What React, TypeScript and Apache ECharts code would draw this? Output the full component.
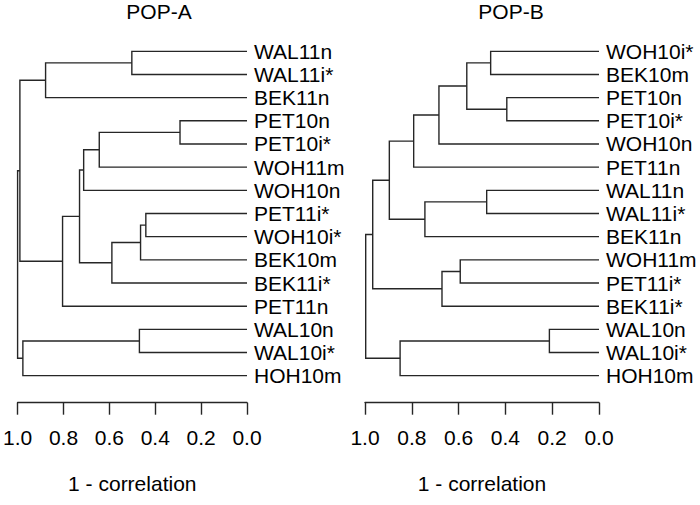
import React, { useEffect, useRef } from "react";
import * as echarts from "echarts";

// ---- data ----
const titles = ["POP-A", "POP-B"];
const axisName = "1 - correlation";
const xTickValues = [0, 0.2, 0.4, 0.6, 0.8, 1.0];

const popALeaves = [
  "WAL11n", "WAL11i*", "BEK11n", "PET10n", "PET10i*", "WOH11m", "WOH10n",
  "PET11i*", "WOH10i*", "BEK10m", "BEK11i*", "PET11n", "WAL10n", "WAL10i*", "HOH10m",
];
// [childA, childB, height]; string = leaf, number = index of earlier merge
const popAMerges: [string | number, string | number, number][] = [
  ["PET10n", "PET10i*", 0.292],
  ["PET11i*", "WOH10i*", 0.441],
  [1, "BEK10m", 0.464],
  ["WAL10n", "WAL10i*", 0.469],
  ["WAL11n", "WAL11i*", 0.502],
  [2, "BEK11i*", 0.589],
  [0, "WOH11m", 0.644],
  [6, "WOH10n", 0.712],
  [7, 5, 0.730],
  [8, "PET11n", 0.804],
  [4, "BEK11n", 0.878],
  [3, "HOH10m", 0.977],
  [10, 9, 0.990],
  [12, 11, 1.0],
];

const popBLeaves = [
  "WOH10i*", "BEK10m", "PET10n", "PET10i*", "WOH10n", "PET11n", "WAL11n",
  "WAL11i*", "BEK11n", "WOH11m", "PET11i*", "BEK11i*", "WAL10n", "WAL10i*", "HOH10m",
];
const popBMerges: [string | number, string | number, number][] = [
  ["WAL10n", "WAL10i*", 0.212],
  ["PET10n", "PET10i*", 0.394],
  ["WOH10i*", "BEK10m", 0.463],
  ["WAL11n", "WAL11i*", 0.480],
  [2, 1, 0.565],
  ["WOH11m", "PET11i*", 0.593],
  [5, "BEK11i*", 0.671],
  [4, "WOH10n", 0.684],
  [3, "BEK11n", 0.744],
  [7, "PET11n", 0.792],
  [0, "HOH10m", 0.850],
  [9, 8, 0.896],
  [11, 6, 0.967],
  [12, 10, 0.997],
];

function buildLinks(leaves: string[], merges: [string | number, string | number, number][]) {
  const nodes: { y: number; h: number }[] = [];
  const links: { coords: number[][] }[] = [];
  const get = (ref: string | number) =>
    typeof ref === "string" ? { y: leaves.indexOf(ref), h: 0 } : nodes[ref];
  merges.forEach(([a, b, h]) => {
    const A = get(a);
    const B = get(b);
    links.push({ coords: [[A.h, A.y], [h, A.y], [h, B.y], [B.h, B.y]] });
    nodes.push({ y: (A.y + B.y) / 2, h });
  });
  return links;
}

const FONT = "'Liberation Sans', Arial, Helvetica, sans-serif";
const LINE = "#262626";
const LW = 1.4;

export default function App() {
  const ref = useRef<HTMLDivElement>(null);
  useEffect(() => {
    if (!ref.current) return;
    const chart = echarts.init(ref.current, undefined, { renderer: "svg" });
    const panels = [
      { leaves: popALeaves, merges: popAMerges, left: 14, width: 233, titleX: 159 },
      { leaves: popBLeaves, merges: popBMerges, left: 365, width: 234, titleX: 511 },
    ];
    const top = 51.3;
    const height = 324.4;
    chart.setOption({
      animation: false,
      backgroundColor: "#ffffff",
      textStyle: { fontFamily: FONT },
      graphic: panels.map((p, i) => ({
        type: "text",
        x: p.titleX,
        y: 11.5,
        style: {
          text: titles[i],
          align: "center",
          verticalAlign: "middle",
          fontSize: 21,
          fontFamily: FONT,
          fill: "#000000",
        },
      })),
      grid: panels.map((p) => ({ left: p.left, width: p.width, top, height })),
      xAxis: panels.map((p, i) => ({
        type: "value",
        gridIndex: i,
        min: xTickValues[0],
        max: xTickValues[xTickValues.length - 1],
        interval: 0.2,
        inverse: true,
        position: "bottom",
        offset: 27,
        axisLine: { show: true, onZero: false, lineStyle: { color: LINE, width: LW } },
        axisTick: { show: true, length: 12, lineStyle: { color: LINE, width: LW } },
        axisLabel: {
          formatter: (v: number) => v.toFixed(1),
          fontSize: 21,
          color: "#000000",
          fontFamily: FONT,
          margin: 24,
          showMinLabel: true,
          showMaxLabel: true,
        },
        splitLine: { show: false },
        name: axisName,
        nameLocation: "middle",
        nameGap: 70,
        nameTextStyle: { fontSize: 21, color: "#000000", fontFamily: FONT },
      })),
      yAxis: panels.map((p, i) => ({
        type: "value",
        gridIndex: i,
        min: 0,
        max: p.leaves.length - 1,
        interval: 1,
        inverse: true,
        position: "right",
        axisLine: { show: false, onZero: false },
        axisTick: { show: false },
        splitLine: { show: false },
        axisLabel: {
          formatter: (v: number) => p.leaves[Math.round(v)] ?? "",
          fontSize: 21,
          color: "#000000",
          fontFamily: FONT,
          margin: 7,
          showMinLabel: true,
          showMaxLabel: true,
        },
      })),
      series: panels.map((p, i) => ({
        type: "lines",
        coordinateSystem: "cartesian2d",
        xAxisIndex: i,
        yAxisIndex: i,
        polyline: true,
        silent: true,
        lineStyle: { color: LINE, width: LW, opacity: 1 },
        data: buildLinks(p.leaves, p.merges),
      })),
    });
    return () => chart.dispose();
  }, []);
  return (
    <div
      ref={ref}
      style={{ position: "fixed", left: 0, top: 0, width: 700, height: 505, background: "#fff" }}
    />
  );
}
